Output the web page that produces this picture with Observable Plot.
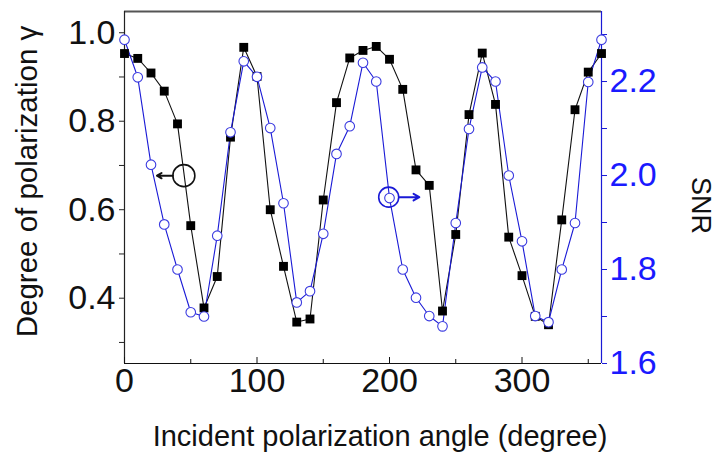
<!DOCTYPE html>
<html>
<head>
<meta charset="utf-8">
<script src="https://cdn.jsdelivr.net/npm/d3@7"></script>
<script src="https://cdn.jsdelivr.net/npm/@observablehq/plot@0.6"></script>
<style>
  html, body { margin: 0; padding: 0; background: #fff; }
  #chart svg { font-family: "Liberation Sans", Arial, sans-serif; }
</style>
</head>
<body>
<div id="chart"></div>
<script>
// Incident polarization angle (degree)
const angles = [0,10,20,30,40,50,60,70,80,90,100,110,120,130,140,150,160,170,180,190,200,210,220,230,240,250,260,270,280,290,300,310,320,330,340,350,360];
// Degree of polarization γ (black squares, left axis)
const dop = [0.953,0.942,0.909,0.868,0.794,0.564,0.378,0.449,0.764,0.967,0.901,0.600,0.472,0.346,0.353,0.622,0.842,0.943,0.960,0.969,0.940,0.872,0.690,0.655,0.371,0.544,0.815,0.954,0.838,0.538,0.451,0.359,0.340,0.577,0.826,0.911,0.953];
// SNR (blue open circles, right axis)
const snr = [2.289,2.209,2.023,1.896,1.800,1.709,1.700,1.872,2.092,2.243,2.210,2.101,1.941,1.730,1.754,1.876,2.046,2.105,2.240,2.200,1.952,1.800,1.740,1.701,1.679,1.899,2.099,2.230,2.200,2.000,1.860,1.701,1.688,1.800,1.899,2.199,2.289];

// tick values
const xTicksMajor = [0,100,200,300];
const xTicksMinor = [50,150,250,350];
const yTicksMajor = [0.4,0.6,0.8,1.0];
const yTicksMinor = [0.3,0.5,0.7,0.9];
const snrTicksMajor = [1.6,1.8,2.0,2.2];
const snrTicksMinor = [1.7,1.9,2.1,2.3];

// annotation markers (which axis belongs to which series)
const dopMarker = [{x: 44.8, y: 0.677}];
const dopArrow = [{x1: 36.5, x2: 24.5, y: 0.677}];
const snrMarker = [{x: 199.4, snr: 1.954}];
const snrArrow = [{x1: 207.5, x2: 222.5, snr: 1.954}];

const xDomain = [0, 360];
const yDomain = [0.2524, 1.048];
const snrDomain = [1.6, 2.349];
const snrToY = d3.scaleLinear(snrDomain, yDomain);

const dopData = angles.map((a, i) => ({x: a, y: dop[i]}));
const snrData = angles.map((a, i) => ({x: a, y: snrToY(snr[i])}));

const blue = "#1a1ad6";
const fmt1 = d3.format(".1f");

const chart = Plot.plot({
  width: 718,
  height: 463,
  marginLeft: 124,
  marginRight: 117,
  marginTop: 11,
  marginBottom: 100,
  style: {fontFamily: "Liberation Sans, Arial, sans-serif", background: "#fff"},
  x: {domain: xDomain},
  y: {domain: yDomain},
  marks: [
    // frame sides
    Plot.ruleY([yDomain[1]], {stroke: "#555", strokeWidth: 2}),
    Plot.ruleY([yDomain[0]], {stroke: "#111", strokeWidth: 1.2}),
    Plot.ruleX([xDomain[0]], {stroke: "#222", strokeWidth: 1.2}),
    Plot.ruleX([xDomain[1]], {stroke: blue, strokeWidth: 1.2}),

    // bottom axis: inward ticks + labels
    Plot.axisX({ticks: xTicksMajor, tickSize: 6, dy: -6, fill: "none", label: null, stroke: "#111"}),
    Plot.axisX({ticks: xTicksMinor, tickSize: 4, dy: -4, fill: "none", label: null, stroke: "#111"}),
    Plot.axisX({ticks: xTicksMajor, tickSize: 0, tickPadding: 4, fontSize: 34, label: null, fill: "#111"}),

    // left axis
    Plot.axisY({ticks: yTicksMajor, tickSize: 5, tickPadding: 4, fontSize: 34, label: null, tickFormat: fmt1, stroke: "#222", fill: "#111"}),
    Plot.axisY({ticks: yTicksMinor, tickSize: 5, fill: "none", label: null, stroke: "#222"}),

    // right axis (SNR)
    Plot.axisY({anchor: "right", ticks: snrTicksMajor.map(snrToY), tickSize: 5, tickPadding: 3, fontSize: 34,
      label: null, stroke: blue, fill: "#1a1aff", tickFormat: d => fmt1(snrToY.invert(d))}),
    Plot.axisY({anchor: "right", ticks: snrTicksMinor.map(snrToY), tickSize: 5, fill: "none", label: null, stroke: blue}),

    // axis titles
    Plot.text(["Incident polarization angle (degree)"], {frameAnchor: "bottom", dy: 82, dx: 17, fontSize: 29, fill: "#111"}),
    Plot.text(["Degree of polarization γ"], {frameAnchor: "left", textAnchor: "middle", dx: -97, dy: -6, rotate: -90, fontSize: 29.5, fill: "#111"}),
    Plot.text(["SNR"], {frameAnchor: "right", textAnchor: "middle", dx: 99, dy: 18, rotate: 90, fontSize: 27, fill: "#111"}),

    // DOP series
    Plot.line(dopData, {x: "x", y: "y", stroke: "#111", strokeWidth: 1.1}),
    // SNR series
    Plot.line(snrData, {x: "x", y: "y", stroke: blue, strokeWidth: 1.1}),
    Plot.dot(dopData, {x: "x", y: "y", symbol: "square", r: 5, fill: "#000", stroke: "none"}),
    Plot.dot(snrData, {x: "x", y: "y", r: 4.8, fill: "#fff", stroke: "#3a3ae0", strokeWidth: 1.1}),

    // annotations
    Plot.dot(dopMarker, {x: "x", y: "y", r: 11, fill: "none", stroke: "#111", strokeWidth: 1.6}),
    Plot.arrow(dopArrow, {x1: "x1", x2: "x2", y1: "y", y2: "y", stroke: "#111", strokeWidth: 2, headLength: 7}),
    Plot.dot(snrMarker, {x: "x", y: d => snrToY(d.snr), r: 10, fill: "none", stroke: blue, strokeWidth: 1.6}),
    Plot.arrow(snrArrow, {x1: "x1", x2: "x2", y1: d => snrToY(d.snr), y2: d => snrToY(d.snr), stroke: blue, strokeWidth: 2, headLength: 6})
  ]
});

document.getElementById("chart").appendChild(chart);
</script>
</body>
</html>
